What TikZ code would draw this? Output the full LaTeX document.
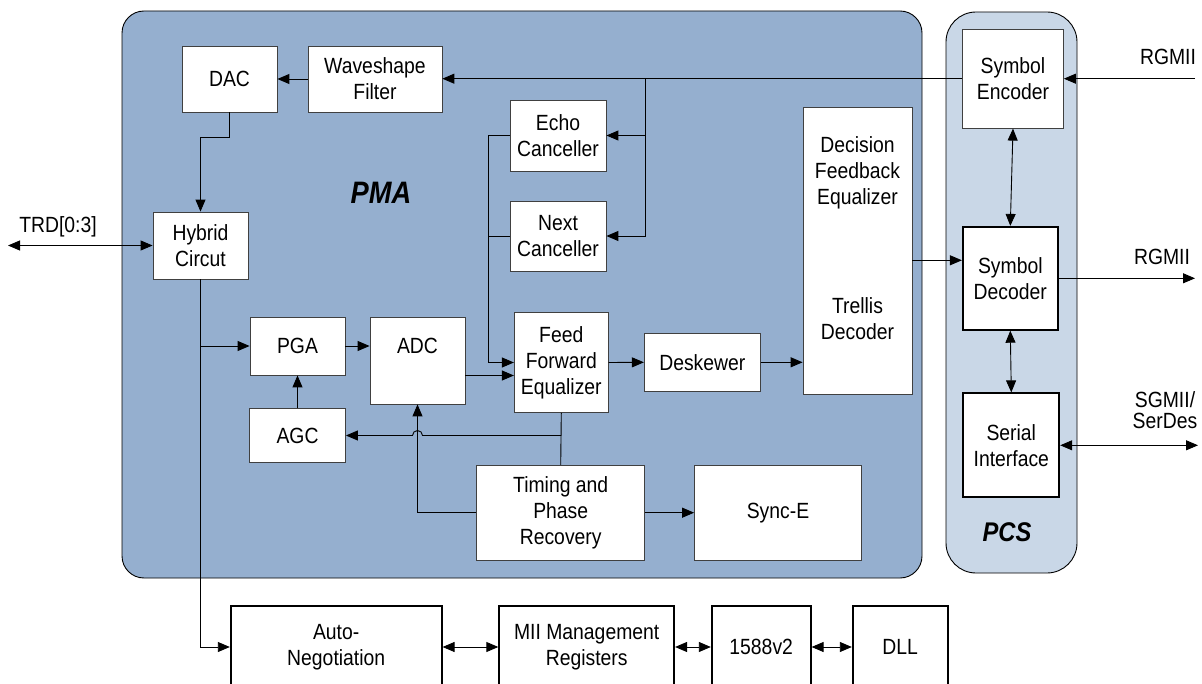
\documentclass[tikz,border=0pt]{standalone}
\usepackage{fontspec}
\setmainfont{Liberation Sans}[FakeStretch=0.88]
\usepackage{tikz}
\usetikzlibrary{arrows.meta}
\usepackage{xcolor}
\definecolor{pmablue}{RGB}{149,175,207}
\definecolor{pcsblue}{RGB}{201,215,231}
\definecolor{boxgray}{RGB}{64,64,64}

\begin{document}
\begin{tikzpicture}[x=1pt, y=-1pt,
	blk/.style={draw=boxgray, line width=0.8pt, fill=white, align=center, inner sep=0pt, font=\fontsize{22}{26}\selectfont},
	thk/.style={blk, draw=black, line width=1.8pt},
	lbl/.style={align=center, inner sep=0pt, font=\fontsize{22}{26}\selectfont},
	ttl/.style={inner sep=0pt, font=\fontsize{31}{31}\selectfont\bfseries\itshape},
	wire/.style={line width=0.9pt},
	arr/.style={wire, -{Triangle[length=12pt,width=10pt]}},
	dbl/.style={wire, {Triangle[length=12pt,width=10pt]}-{Triangle[length=12pt,width=10pt]}}]
	\clip (0,0) rectangle (1202,684);
	\draw[fill=pmablue, line width=0.9pt, rounded corners=22pt] (122,11) rectangle (922,578);
	\draw[fill=pcsblue, line width=0.9pt, rounded corners=30pt] (946,12) rectangle (1077,573);
	\node[ttl] (pmat) at (381,193) {PMA};
	\node[ttl, font=\fontsize{27}{27}\selectfont\bfseries\itshape] (pcst) at (1007,532) {PCS};

	\node[blk, minimum width=95pt, minimum height=66pt] (dac) at (229.5,79) {DAC};
	\node[blk, minimum width=134pt, minimum height=66pt] (wave) at (375,79) {Waveshape\\Filter};
	\node[blk, minimum width=95pt, minimum height=67pt] (hyb) at (200.5,245.5) {Hybrid\\Circut};
	\node[blk, minimum width=96pt, minimum height=71pt] (echo) at (558,135.5) {Echo\\Canceller};
	\node[blk, minimum width=96pt, minimum height=70pt] (nxt) at (558,236) {Next\\Canceller};
	\node[blk, minimum width=95pt, minimum height=58pt] (pga) at (297.5,346) {PGA};
	\node[blk, minimum width=95pt, minimum height=87pt, text depth=29pt] (adc) at (417.5,360.5) {ADC};
	\node[blk, minimum width=96pt, minimum height=54pt] (agc) at (297.5,435.5) {AGC};
	\node[blk, minimum width=94pt, minimum height=100pt] (ffe) at (561.3,362.5) {Feed\\Forward\\Equalizer};
	\node[blk, minimum width=116pt, minimum height=58pt] (desk) at (702.3,362.3) {Deskewer};
	\node[blk, minimum width=168pt, minimum height=95pt] (tpr) at (560.7,512.7) {Timing and\\Phase\\Recovery};
	\node[blk, minimum width=167pt, minimum height=95pt] (sync) at (778,513.3) {Sync-E};
	\node[blk, minimum width=109pt, minimum height=287pt, text width=105pt, text height=16pt, text depth=212pt] (dfe) at (857.5,250.5) {Decision\\Feedback\\Equalizer\\[83pt]Trellis\\Decoder};

	\node[blk, minimum width=101pt, minimum height=99pt] (enc) at (1013,78.7) {Symbol\\Encoder};
	\node[thk, minimum width=95pt, minimum height=103pt] (dec) at (1010.3,278.3) {Symbol\\Decoder};
	\node[thk, minimum width=96pt, minimum height=104pt] (ser) at (1011.3,445.3) {Serial\\Interface};

	\node[thk, minimum width=211pt, minimum height=82pt] (auto) at (336.2,647) {Auto-\\Negotiation};
	\node[thk, minimum width=175pt, minimum height=82pt] (mii) at (586.7,647) {MII Management\\Registers};
	\node[thk, minimum width=99pt, minimum height=82pt] (ptp) at (761.2,647) {1588v2};
	\node[thk, minimum width=95pt, minimum height=82pt] (dll) at (900.2,647) {DLL};

	\node[lbl] (trdlbl) at (58,226.7) {TRD[0:3]};
	\node[lbl] (rgmiiin) at (1168,56.7) {RGMII};
	\node[lbl] (rgmiiout) at (1162,256.7) {RGMII};
	\node[lbl, font=\fontsize{22}{21}\selectfont] (sgmii) at (1165,410) {SGMII/\\SerDes};

	\coordinate (trd) at (8,245.5);
	\coordinate (rgin) at (1195,78.7);
	\coordinate (rgout) at (1195,278.3);
	\coordinate (sgm) at (1198,445.3);
	\coordinate (split) at (645,78.7);
	\coordinate (ffein) at ([yshift=-13pt]ffe.west);
	\coordinate (decin) at ([yshift=18pt]dec.west);
	\coordinate (hop) at (adc.south |- agc.east);

	\draw[dbl] (trd) -- (hyb.west);
	\draw[arr] (rgin) -- (enc.east);
	\draw[arr] (enc.west) -- (enc.west -| wave.east);
	\draw[arr] (wave.west) -- (dac.east);
	\draw[arr] (dac.south) -- ++(0,25) -| (hyb.north);
	\draw[arr] (split) |- (nxt.east);
	\draw[arr] (split |- echo.east) -- (echo.east);
	\draw[arr] (echo.west) -- ++(-21,0) |- (ffe.west);
	\draw[wire] (nxt.west) -- ++(-21,0);
	\draw[arr] (hyb.south) |- (auto.west);
	\draw[arr] (hyb.south |- pga.west) -- (pga.west);
	\draw[arr] (pga.east) -- (pga.east -| adc.west);
	\draw[arr] (agc.north) -- (pga.south);
	\draw[arr] (ffein -| adc.east) -- (ffein);
	\draw[arr] (ffe.east) -- (desk.west);
	\draw[arr] (desk.east) -- (desk.east -| dfe.west);
	\draw[wire] (ffe.south) -- (tpr.north);
	\draw[arr] (ffe.south |- agc.east) -- ([xshift=5pt]hop) arc[start angle=0, end angle=180, radius=5pt] -- (agc.east);
	\draw[arr] (tpr.west) -| (adc.south);
	\draw[arr] (tpr.east) -- (tpr.east -| sync.west);
	\draw[arr] (decin -| dfe.east) -- (decin);
	\draw[dbl] (enc.south) -- (dec.north);
	\draw[dbl] (dec.south) -- (ser.north);
	\draw[arr] (dec.east) -- (rgout);
	\draw[dbl] (ser.east) -- (sgm);
	\draw[dbl] (auto.east) -- (mii.west);
	\draw[dbl] (mii.east) -- (ptp.west);
	\draw[dbl] (ptp.east) -- (dll.west);
\end{tikzpicture}
\end{document}
